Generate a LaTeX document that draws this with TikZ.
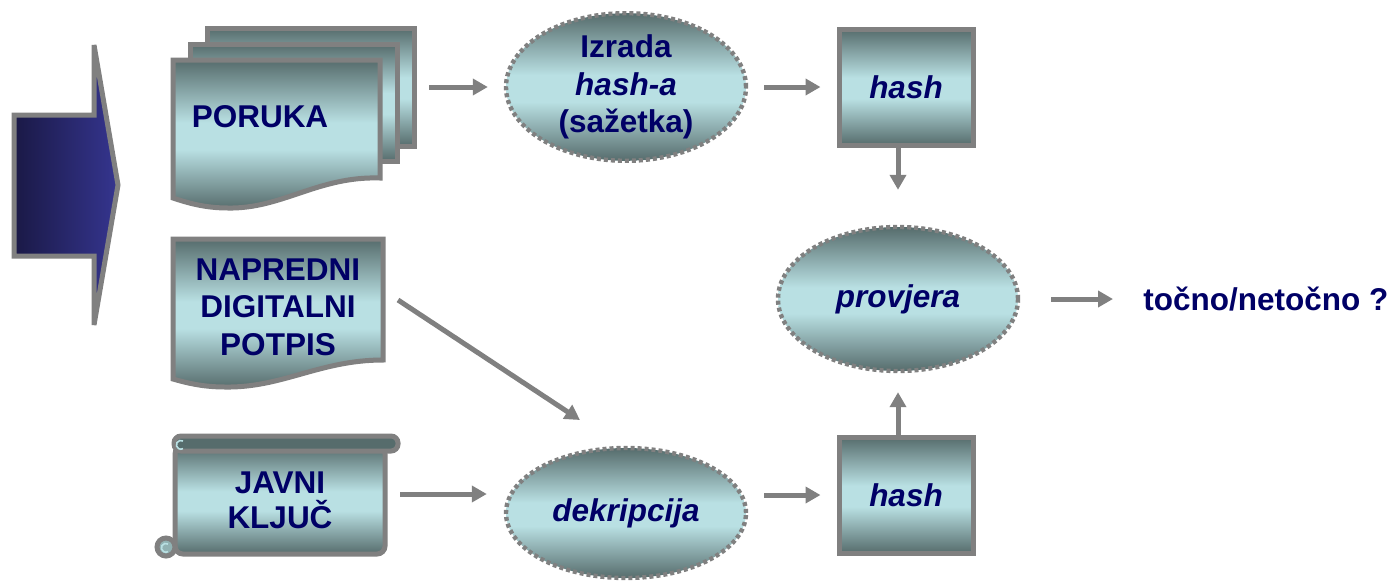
\documentclass[tikz,border=0pt]{standalone}
\usepackage{fontspec}
\setmainfont{Liberation Sans}
\usetikzlibrary{arrows.meta,shapes.geometric}
\definecolor{frame}{HTML}{808080}
\definecolor{tealdk}{HTML}{566C6C}
\definecolor{teallt}{HTML}{B9E0E3}
\definecolor{navy}{HTML}{000066}
\definecolor{arrowdk}{HTML}{1A1946}
\definecolor{arrowlt}{HTML}{35358F}
\pgfdeclareverticalshading{tealbar}{100bp}{color(0bp)=(tealdk); color(25bp)=(tealdk); color(45bp)=(teallt); color(54bp)=(teallt); color(75bp)=(tealdk); color(100bp)=(tealdk)}

\begin{document}
\begin{tikzpicture}[x=0.5pt,y=-0.5pt,
  fill3/.style={shading=tealbar},
  sheet/.style={fill3,draw=frame,line width=2.5pt},
  oval/.style={ellipse,fill3,draw=frame,line width=2.2pt,dash pattern=on 2pt off 1.5pt,minimum width=120pt,inner sep=0pt},
  box/.style={rectangle,sheet,minimum width=67pt,minimum height=58pt},
  txt/.style={text=navy,font=\fontsize{15.75}{18.75}\selectfont\bfseries,align=center},
  arr/.style={draw=frame,line width=2.5pt,-{Triangle[length=7.5pt,width=8pt]},shorten <=8pt,shorten >=8pt}]
\useasboundingbox (0,0) rectangle (1397,584);
\draw[draw=frame,line width=2.5pt,left color=arrowdk,right color=arrowlt] (14,115) -- (94,115) -- (94,45) -- (118,185) -- (94,325) -- (94,256) -- (14,256) -- cycle;
\draw[sheet] (207,28) rectangle (414,146);
\draw[sheet] (190,44) rectangle (397,161);
\draw[sheet] (173,60) -- (380,60) -- (380,178) .. controls (318,176) and (282,209) .. (228,208) .. controls (205,208) and (188,203) .. (173,198) -- cycle;
\draw[sheet] (173,239) -- (383,239) -- (383,360) .. controls (320,360) and (282,388) .. (225,387) .. controls (203,387) and (187,383) .. (173,379) -- cycle;
\draw[sheet,rounded corners=4pt] (175,446) -- (385,446) -- (385,554) -- (175,554) -- cycle;
\draw[draw=frame,line width=2.5pt,fill=tealdk,rounded corners=3.5pt] (174,436) rectangle (398,451);
\draw[draw=frame,line width=2.5pt,fill=teallt!60!tealdk] (166,547) circle[radius=4.5pt];
\draw[teallt,line width=0.8pt] (183,441) arc[start angle=60,end angle=300,radius=2.2pt];
\draw[teallt,line width=0.8pt] (168,544) arc[start angle=60,end angle=300,radius=2.2pt];
\node[txt] (poruka) at (260,117) {PORUKA};
\node[txt] (potpis) at (278,307) {NAPREDNI\\DIGITALNI\\POTPIS};
\node[txt,font=\fontsize{15.75}{17.5}\selectfont\bfseries] (kljuc) at (280,500) {JAVNI\\KLJUČ};
\node[oval,txt,minimum height=63pt] (izrada) at (626,87) {Izrada\\\textit{hash-a}\\(sažetka)};
\node[box,txt] (hash1) at (906,87) {\textit{hash}};
\node[oval,txt,minimum height=72pt] (provjera) at (898,299) {\textit{provjera}};
\node[oval,txt,minimum height=65pt] (dekr) at (626,513) {\textit{dekripcija}};
\node[box,txt] (hash2) at (906,495) {\textit{hash}};
\node[txt,anchor=west,inner sep=0pt] (rez) at (1143,299) {točno/netočno ?};
\coordinate (porukaE) at (413,87);
\coordinate (potpisE) at (398,300);
\coordinate (dekrN) at (580,420);
\coordinate (kljucE) at (400,494);
\draw[arr] (porukaE) -- (izrada);
\draw[arr] (izrada) -- (hash1);
\draw[arr,shorten <=0pt,shorten >=17.5pt] (hash1.south -| provjera) -- (provjera);
\draw[arr,shorten <=0pt,shorten >=9.5pt] (hash2.north -| provjera) -- (provjera);
\draw[arr,shorten <=15.5pt,shorten >=15pt] (provjera) -- (rez);
\draw[arr,shorten <=0pt,shorten >=0pt] (potpisE) -- (dekrN);
\draw[arr,shorten <=0pt,shorten >=8.5pt] (kljucE) -- (kljucE -| dekr.west);
\draw[arr] (dekr.east |- hash2) -- (hash2);
\end{tikzpicture}
\end{document}
